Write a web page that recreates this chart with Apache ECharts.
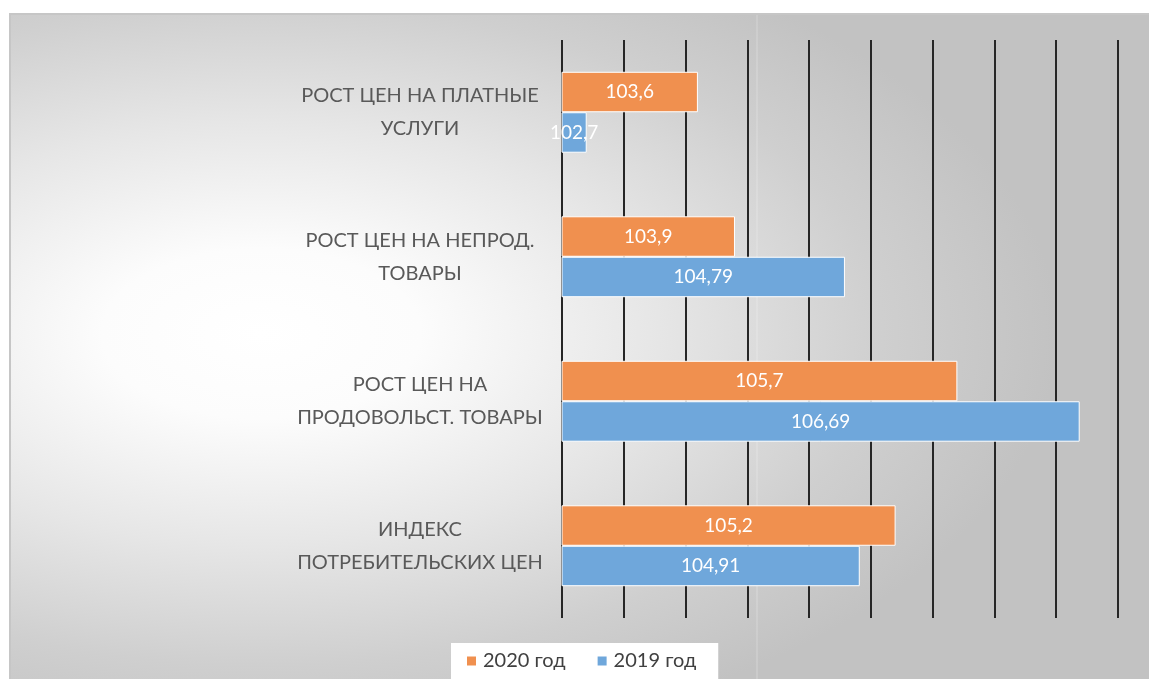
<!DOCTYPE html>
<html>
<head>
<meta charset="utf-8">
<script src="https://cdn.jsdelivr.net/npm/echarts@6/dist/echarts.min.js"></script>
<style>
  html, body { margin: 0; padding: 0; background: #ffffff; }
  #bg {
    position: absolute; left: 9px; top: 13px; width: 1140px; height: 666px;
    box-sizing: border-box; border-top: 2px solid #c6c6c6; border-left: 2px solid #c6c6c6;
    background: radial-gradient(ellipse 70% 64% at 22% 48%, #ffffff 0%, #fcfcfc 20%, #e6e6e6 50%, #cfcfcf 78%, #c2c2c2 100%);
  }
  #seam { position: absolute; left: 756px; top: 15px; width: 2px; height: 664px; background: rgba(255,255,255,0.15); }
  #chart { position: absolute; left: 0; top: 0; width: 1149px; height: 679px; }
</style>
</head>
<body>
<div id="bg"></div>
<div id="seam"></div>
<div id="chart"></div>
<script>
// Categories, bottom to top
const categories = [
  'ИНДЕКС\nПОТРЕБИТЕЛЬСКИХ ЦЕН',
  'РОСТ ЦЕН НА\nПРОДОВОЛЬСТ. ТОВАРЫ',
  'РОСТ ЦЕН НА НЕПРОД.\nТОВАРЫ',
  'РОСТ ЦЕН НА ПЛАТНЫЕ\nУСЛУГИ'
];
const values2020 = [105.2, 105.7, 103.9, 103.6];
const values2019 = [104.91, 106.69, 104.79, 102.7];
const seriesNames = ['2020 год', '2019 год'];

const chart = echarts.init(document.getElementById('chart'), null, { renderer: 'canvas' });
const fmt = p => String(p.value).replace('.', ',');
const labelStyle = {
  show: true, position: 'inside', color: '#ffffff',
  fontFamily: 'Lato', fontSize: 19, formatter: fmt
};
chart.setOption({
  backgroundColor: 'transparent',
  animation: false,
  grid: { left: 562, right: 31, top: 40, bottom: 61, containLabel: false },
  xAxis: {
    type: 'value', min: 102.5, max: 107, interval: 0.5,
    axisLabel: { show: false }, axisLine: { show: false }, axisTick: { show: false },
    splitLine: { show: true, lineStyle: { color: '#262626', width: 2 } }
  },
  yAxis: {
    type: 'category', data: categories,
    axisLine: { show: false }, axisTick: { show: false },
    axisLabel: {
      align: 'center', margin: 142, color: '#595959',
      fontFamily: 'Lato', fontSize: 20, lineHeight: 33, padding: [4, 0, 0, 0]
    }
  },
  legend: {
    data: seriesNames, left: 451, top: 643,
    backgroundColor: '#ffffff', padding: [8, 22, 10, 14],
    itemWidth: 11, itemHeight: 11, itemGap: 30, icon: 'rect',
    textStyle: { color: '#404040', fontFamily: 'Lato', fontSize: 20, padding: [0, 0, 0, 1] }
  },
  series: [
    {
      name: seriesNames[0], type: 'bar', data: values2020,
      barGap: '0%', barCategoryGap: '44%',
      itemStyle: { color: '#f0904f', borderColor: '#ffffff', borderWidth: 1 },
      label: labelStyle
    },
    {
      name: seriesNames[1], type: 'bar', data: values2019,
      barGap: '0%', barCategoryGap: '44%',
      itemStyle: { color: '#6fa7db', borderColor: '#ffffff', borderWidth: 1 },
      label: labelStyle
    }
  ]
});
</script>
</body>
</html>
